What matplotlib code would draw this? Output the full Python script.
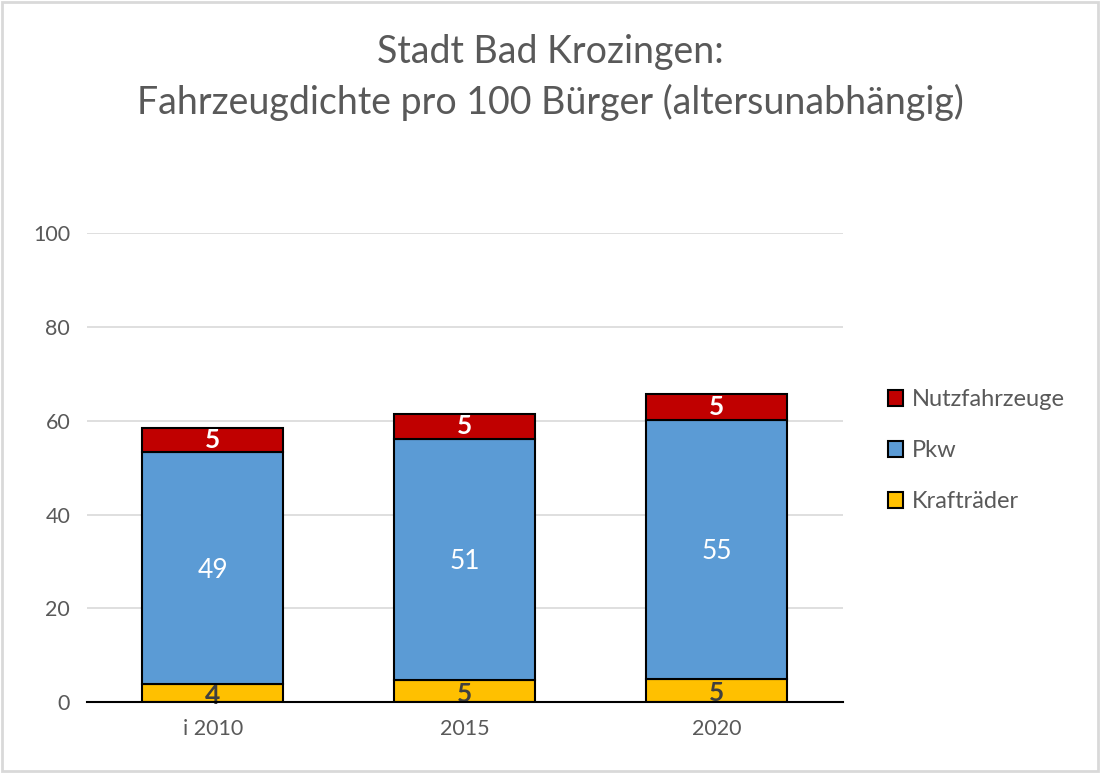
import matplotlib
matplotlib.use('Agg')
import matplotlib.pyplot as plt
import numpy as np

# Werte
years = ['i 2010', '2015', '2020']
kraftraeder = [3.9, 4.75, 5.05]
pkw = [49.4, 51.4, 55.2]
nutzfahrzeuge = [5.15, 5.35, 5.45]

RED = '#C00000'
BLUE = '#5B9BD5'
YELLOW = '#FFC000'
TEXT = '#595959'

plt.rcParams['font.family'] = ['Lato', 'DejaVu Sans']

fig = plt.figure(figsize=(11, 7.73), dpi=100)
fig.patch.set_facecolor('white')
ax = fig.add_axes([0.079, 0.0915, 0.687, 0.607])

x = np.arange(len(years))
w = 0.56
b1 = ax.bar(x, kraftraeder, w, color=YELLOW, edgecolor='black', linewidth=1.5,
            label='Krafträder', zorder=3)
b2 = ax.bar(x, pkw, w, bottom=kraftraeder, color=BLUE, edgecolor='black',
            linewidth=1.5, label='Pkw', zorder=3)
bottom2 = np.array(kraftraeder) + np.array(pkw)
b3 = ax.bar(x, nutzfahrzeuge, w, bottom=bottom2, color=RED, edgecolor='black',
            linewidth=1.5, label='Nutzfahrzeuge', zorder=3)

for i in range(len(years)):
    ax.text(x[i], kraftraeder[i] / 2 - 0.6, f'{kraftraeder[i]:.0f}', ha='center', va='center',
            fontsize=19, fontweight='bold', color='#404040', zorder=4)
    ax.text(x[i], kraftraeder[i] + pkw[i] / 2 - 0.5, f'{pkw[i]:.0f}', ha='center', va='center',
            fontsize=19, color='white', zorder=4)
    ax.text(x[i], bottom2[i] + nutzfahrzeuge[i] / 2, f'{nutzfahrzeuge[i]:.0f}',
            ha='center', va='center', fontsize=19, fontweight='bold', color='white', zorder=4)

ax.set_xlim(-0.5, 2.5)
ax.set_ylim(0, 100)
ax.set_yticks(range(0, 101, 20))
ax.set_xticks(x)
ax.set_xticklabels(years)
ax.yaxis.grid(True, color='#D9D9D9', linewidth=1.2, zorder=0)
ax.tick_params(axis='both', length=0, labelsize=15.5, labelcolor=TEXT, pad=12)
for s in ['top', 'right', 'left']:
    ax.spines[s].set_visible(False)
ax.spines['bottom'].set_color('black')
ax.spines['bottom'].set_linewidth(1.5)
ax.spines['bottom'].set_zorder(5)

handles = [b3, b2, b1]
leg = fig.legend(handles, ['Nutzfahrzeuge', 'Pkw', 'Krafträder'],
                 loc='center left', bbox_to_anchor=(0.788, 0.417), frameon=False,
                 fontsize=17, handlelength=0.65, handleheight=0.65,
                 handletextpad=0.35, labelspacing=1.28)
for t in leg.get_texts():
    t.set_color(TEXT)

fig.text(0.5, 0.933, 'Stadt Bad Krozingen:', ha='center', va='center',
         fontsize=27, color=TEXT)
fig.text(0.5, 0.868, 'Fahrzeugdichte pro 100 Bürger (altersunabhängig)', ha='center',
         va='center', fontsize=27, color=TEXT)

# grauer Rahmen
fig.patches.append(plt.Rectangle((0.002, 0.003), 0.996, 0.994, transform=fig.transFigure,
                                 fill=False, edgecolor='#D9D9D9', linewidth=2))

fig.savefig('out.png', dpi=100, facecolor='white')
